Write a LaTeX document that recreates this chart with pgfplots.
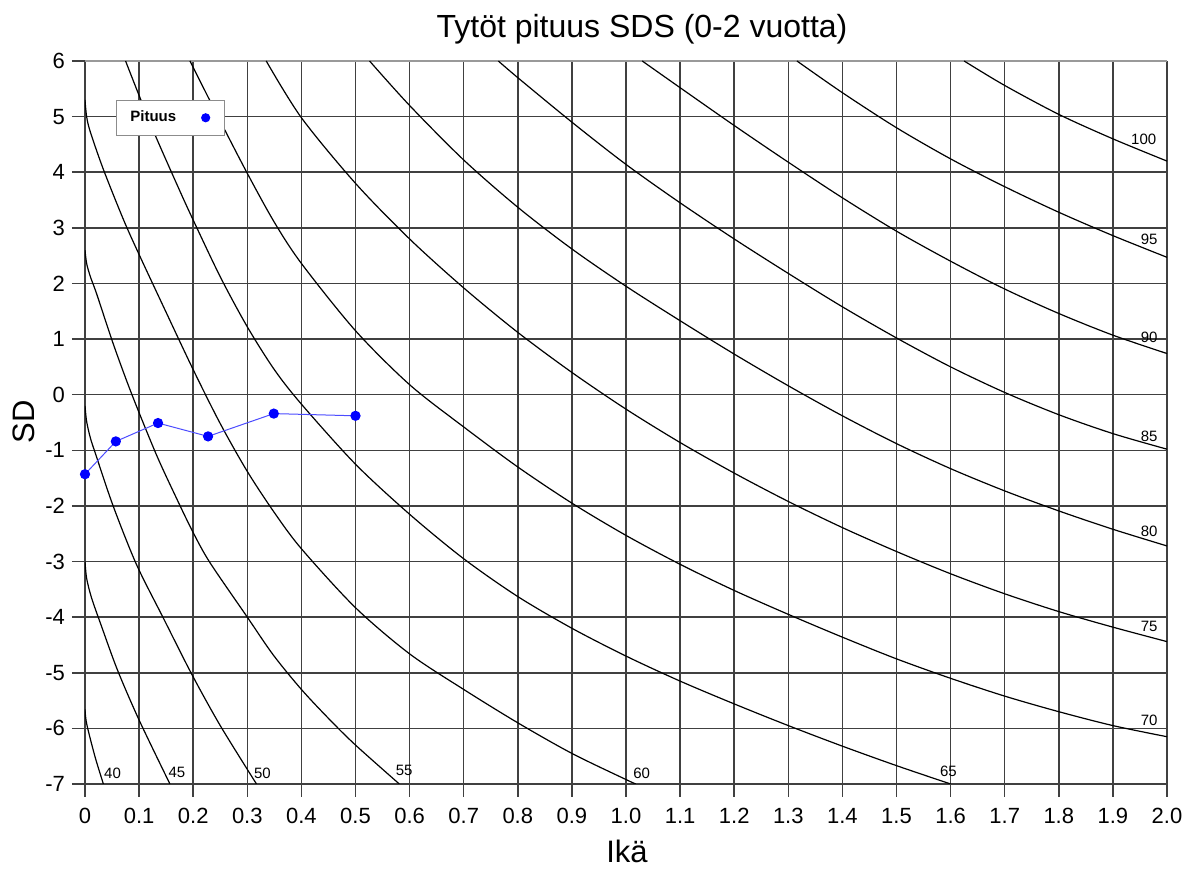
\documentclass[border=0pt]{standalone}
\usepackage{pgfplots}
\pgfplotsset{compat=1.18}
\usepackage{fontspec}
\setmainfont{Liberation Sans}

\begin{document}
\begin{tikzpicture}
\path[use as bounding box] (-42.5pt,-43.5pt) rectangle (555.5pt,392pt);
\begin{axis}[
  at={(0,0)}, anchor=south west,
  scale only axis, width=541pt, height=361.5pt,
  xmin=0, xmax=2, ymin=-7, ymax=6,
  xtick={0,0.1,0.2,0.3,0.4,0.5,0.6,0.7,0.8,0.9,1.0,1.1,1.2,1.3,1.4,1.5,1.6,1.7,1.8,1.9,2.0},
  xticklabels={0,0.1,0.2,0.3,0.4,0.5,0.6,0.7,0.8,0.9,1.0,1.1,1.2,1.3,1.4,1.5,1.6,1.7,1.8,1.9,2.0},
  ytick={-7,-6,-5,-4,-3,-2,-1,0,1,2,3,4,5},
  yticklabels={-7,-6,-5,-4,-3,-2,-1,0,1,2,3,4,5},
  extra y ticks={6}, extra y tick labels={6},
  extra y tick style={major grid style={draw=none}},
  grid=major,
  major grid style={black!75, line width=0.75pt},
  tick style={black!75, line width=0.75pt},
  major tick length=6.5pt,
  tick align=outside,
  tick pos=left,
  axis line style={draw=none},
  tick label style={font=\fontsize{11}{13}\selectfont},
  xticklabel style={yshift=-2pt},
  clip mode=individual,
  legend style={at={(0.0286,0.946)}, anchor=north west, draw=black!45, fill=white,
    font=\bfseries\fontsize{7.5}{9}\selectfont, inner xsep=5pt, inner ysep=3.2pt,
    legend cell align=left},
  legend plot pos=right,
  legend image code/.code={\path[draw=none,fill=none] (0,0) -- (17pt,0); \fill[blue,draw=none] (12.75pt,0) circle (2.3pt);},
]
\draw[black!40, line width=0.6pt] (rel axis cs:0,1) -- (rel axis cs:1,1);

\addplot[black, line width=0.6pt, smooth, forget plot] coordinates {(0,-5.66) (0.002,-5.86) (0.008,-6.12) (0.02,-6.56) (0.034,-7)};
\addplot[black, line width=0.6pt, smooth, forget plot] coordinates {(0,-3.0) (0.003,-3.3) (0.012,-3.65) (0.03,-4.15) (0.06,-4.95) (0.1,-5.85) (0.157,-7)};
\addplot[black, line width=0.6pt, smooth, forget plot] coordinates {(0,-0.2) (0.003,-0.48) (0.01,-0.78) (0.02,-1.08) (0.052,-2.0) (0.095,-3.05) (0.145,-4.02) (0.197,-5.02) (0.25,-5.95) (0.317,-7)};
\addplot[black, line width=0.6pt, smooth, forget plot] coordinates {(0,2.6) (0.003,2.36) (0.01,2.12) (0.022,1.8) (0.052,0.92) (0.086,0.02) (0.132,-1.08) (0.17,-1.88) (0.2,-2.48) (0.231,-3.02) (0.3,-4.0) (0.348,-4.68) (0.4,-5.3) (0.452,-5.84) (0.5,-6.3) (0.581,-7)};
\addplot[black, line width=0.6pt, smooth, forget plot] coordinates {(0,5.3) (0.003,5.0) (0.01,4.72) (0.034,4.05) (0.071,3.15) (0.1,2.52) (0.15,1.48) (0.2,0.45) (0.25,-0.52) (0.3,-1.38) (0.35,-2.12) (0.4,-2.77) (0.5,-3.83) (0.6,-4.66) (0.7,-5.3) (0.8,-5.9) (0.9,-6.45) (1.0,-6.92) (1.018,-7)};
\addplot[black, line width=0.6pt, smooth, forget plot] coordinates {(0.075,6.0) (0.1,5.38) (0.13,4.66) (0.175,3.67) (0.2,3.14) (0.25,2.12) (0.3,1.22) (0.35,0.45) (0.4,-0.17) (0.5,-1.25) (0.6,-2.15) (0.7,-2.95) (0.8,-3.63) (0.9,-4.2) (1.0,-4.7) (1.1,-5.15) (1.2,-5.56) (1.3,-5.95) (1.4,-6.32) (1.5,-6.67) (1.6,-7.0)};
\addplot[black, line width=0.6pt, smooth, forget plot] coordinates {(0.194,6.0) (0.25,4.92) (0.3,3.98) (0.35,3.1) (0.4,2.36) (0.5,1.15) (0.6,0.18) (0.7,-0.58) (0.8,-1.3) (0.9,-1.95) (1.0,-2.53) (1.1,-3.05) (1.2,-3.52) (1.3,-3.95) (1.4,-4.36) (1.5,-4.75) (1.6,-5.1) (1.7,-5.42) (1.8,-5.7) (1.9,-5.95) (2.0,-6.15)};
\addplot[black, line width=0.6pt, smooth, forget plot] coordinates {(0.335,6.0) (0.4,4.98) (0.5,3.8) (0.6,2.8) (0.7,1.92) (0.8,1.12) (0.9,0.4) (1.0,-0.26) (1.1,-0.86) (1.2,-1.41) (1.3,-1.92) (1.4,-2.39) (1.5,-2.82) (1.6,-3.22) (1.7,-3.58) (1.8,-3.9) (1.9,-4.18) (2.0,-4.44)};
\addplot[black, line width=0.6pt, smooth, forget plot] coordinates {(0.526,6.0) (0.6,5.2) (0.7,4.22) (0.8,3.37) (0.9,2.62) (1.0,1.95) (1.1,1.33) (1.2,0.73) (1.3,0.16) (1.4,-0.38) (1.5,-0.88) (1.6,-1.33) (1.7,-1.73) (1.8,-2.09) (1.9,-2.42) (2.0,-2.72)};
\addplot[black, line width=0.6pt, smooth, forget plot] coordinates {(0.764,6.0) (0.8,5.7) (0.9,4.9) (1.0,4.14) (1.1,3.45) (1.2,2.8) (1.3,2.18) (1.4,1.58) (1.5,1.02) (1.6,0.5) (1.7,0.04) (1.8,-0.36) (1.9,-0.7) (2.0,-0.98)};
\addplot[black, line width=0.6pt, smooth, forget plot] coordinates {(1.03,6.0) (1.1,5.52) (1.2,4.84) (1.3,4.18) (1.4,3.54) (1.5,2.94) (1.6,2.4) (1.7,1.9) (1.8,1.46) (1.9,1.07) (2.0,0.74)};
\addplot[black, line width=0.6pt, smooth, forget plot] coordinates {(1.316,6.0) (1.4,5.43) (1.5,4.8) (1.6,4.24) (1.7,3.74) (1.8,3.28) (1.9,2.86) (2.0,2.47)};
\addplot[black, line width=0.6pt, smooth, forget plot] coordinates {(1.625,6.0) (1.7,5.56) (1.8,5.04) (1.9,4.6) (2.0,4.2)};

\addplot[blue!70, line width=0.5pt, mark=*, mark size=2.3pt, mark options={blue, fill=blue}] coordinates {(0,-1.43) (0.057,-0.84) (0.135,-0.51) (0.2275,-0.75) (0.349,-0.34) (0.5,-0.38)};
\addlegendentry{Pituus}

\begin{scope}[every node/.style={font=\fontsize{7.5}{9}\selectfont, inner sep=0pt}]
\node at (axis cs:0.051,-6.81) {40};
\node at (axis cs:0.170,-6.80) {45};
\node at (axis cs:0.328,-6.80) {50};
\node at (axis cs:0.590,-6.76) {55};
\node at (axis cs:1.029,-6.80) {60};
\node at (axis cs:1.596,-6.77) {65};
\node at (axis cs:1.967,-5.85) {70};
\node at (axis cs:1.967,-4.16) {75};
\node at (axis cs:1.967,-2.45) {80};
\node at (axis cs:1.967,-0.74) {85};
\node at (axis cs:1.967,1.03) {90};
\node at (axis cs:1.967,2.80) {95};
\node at (axis cs:1.957,4.60) {100};
\end{scope}
\end{axis}
\node[anchor=base, font=\fontsize{16}{19}\selectfont] at (278.5pt,373pt) {Tytöt pituus SDS (0-2 vuotta)};
\node[anchor=base, font=\fontsize{15.5}{18}\selectfont] at (271pt,-39.5pt) {Ikä};
\node[anchor=base, rotate=90, font=\fontsize{15.5}{18}\selectfont] at (-25pt,181pt) {SD};
\end{tikzpicture}
\end{document}
